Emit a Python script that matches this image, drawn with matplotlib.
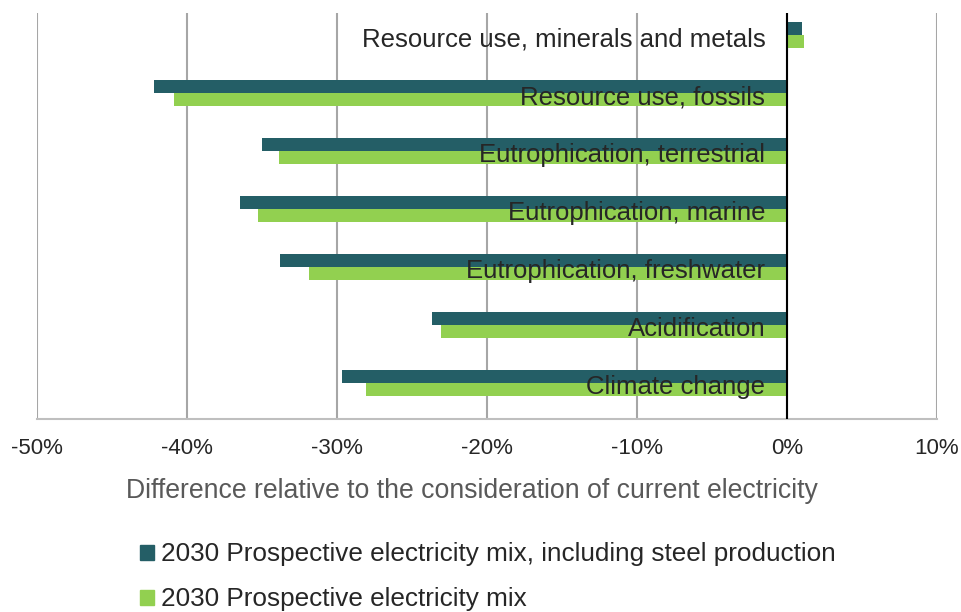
import matplotlib.pyplot as plt
import numpy as np
from matplotlib.patches import Patch

# Categories (top to bottom)
categories = ['Resource use, minerals and metals', 'Resource use, fossils',
              'Eutrophication, terrestrial', 'Eutrophication, marine',
              'Eutrophication, freshwater', 'Acidification', 'Climate change']

# Values in % difference
steel_mix = [1.0, -42.2, -35.0, -36.5, -33.8, -23.7, -29.7]
prospective_mix = [1.1, -40.9, -33.9, -35.3, -31.9, -23.1, -28.1]

series_names = ['2030 Prospective electricity mix, including steel production',
                '2030 Prospective electricity mix']

dark = '#245E66'
green = '#92D050'
plt.rcParams['font.family'] = ['Liberation Sans', 'DejaVu Sans']

fig = plt.figure(figsize=(9.61, 6.12), dpi=100)
ax = fig.add_axes([37 / 961, 193 / 612, 900 / 961, 406 / 612])

y = np.arange(len(categories))
h = 0.224
ax.barh(y - h / 2, steel_mix, height=h, color=dark, zorder=3)
ax.barh(y + h / 2, prospective_mix, height=h, color=green, zorder=3)

ax.set_xlim(-50, 10)
ax.set_ylim(6.62, -0.38)
ax.set_xticks(np.arange(-50, 11, 10))
ax.set_xticklabels([f'{t}%' for t in range(-50, 11, 10)], fontsize=16, color='#262626')
ax.set_yticks([])
ax.tick_params(axis='x', length=0, pad=14)

ax.grid(axis='x', color='#A6A6A6', linewidth=1.5, zorder=0)
ax.axvline(0, color='black', linewidth=1.5, zorder=4)
for s in ['top', 'left', 'right']:
    ax.spines[s].set_visible(False)
ax.spines['bottom'].set_color('#BFBFBF')
ax.spines['bottom'].set_linewidth(1.5)

# category labels inside the plot
for i, name in enumerate(categories):
    ax.text(-1.45, i + 0.19, name, ha='right', va='baseline', fontsize=18.5,
            color='#262626', zorder=5)

ax.set_xlabel('Difference relative to the consideration of current electricity',
              fontsize=19.2, color='#595959')
ax.xaxis.set_label_coords(0.483, -0.145)

handles = [Patch(color=dark), Patch(color=green)]
fig.legend(handles, series_names, loc='upper left', bbox_to_anchor=(130 / 961, 1 - 532 / 612),
           frameon=False, fontsize=18.8, handlelength=0.5, handleheight=0.5,
           handletextpad=0.3, labelspacing=0.8, labelcolor='#262626', borderaxespad=0)

plt.savefig('out.png', dpi=100)
